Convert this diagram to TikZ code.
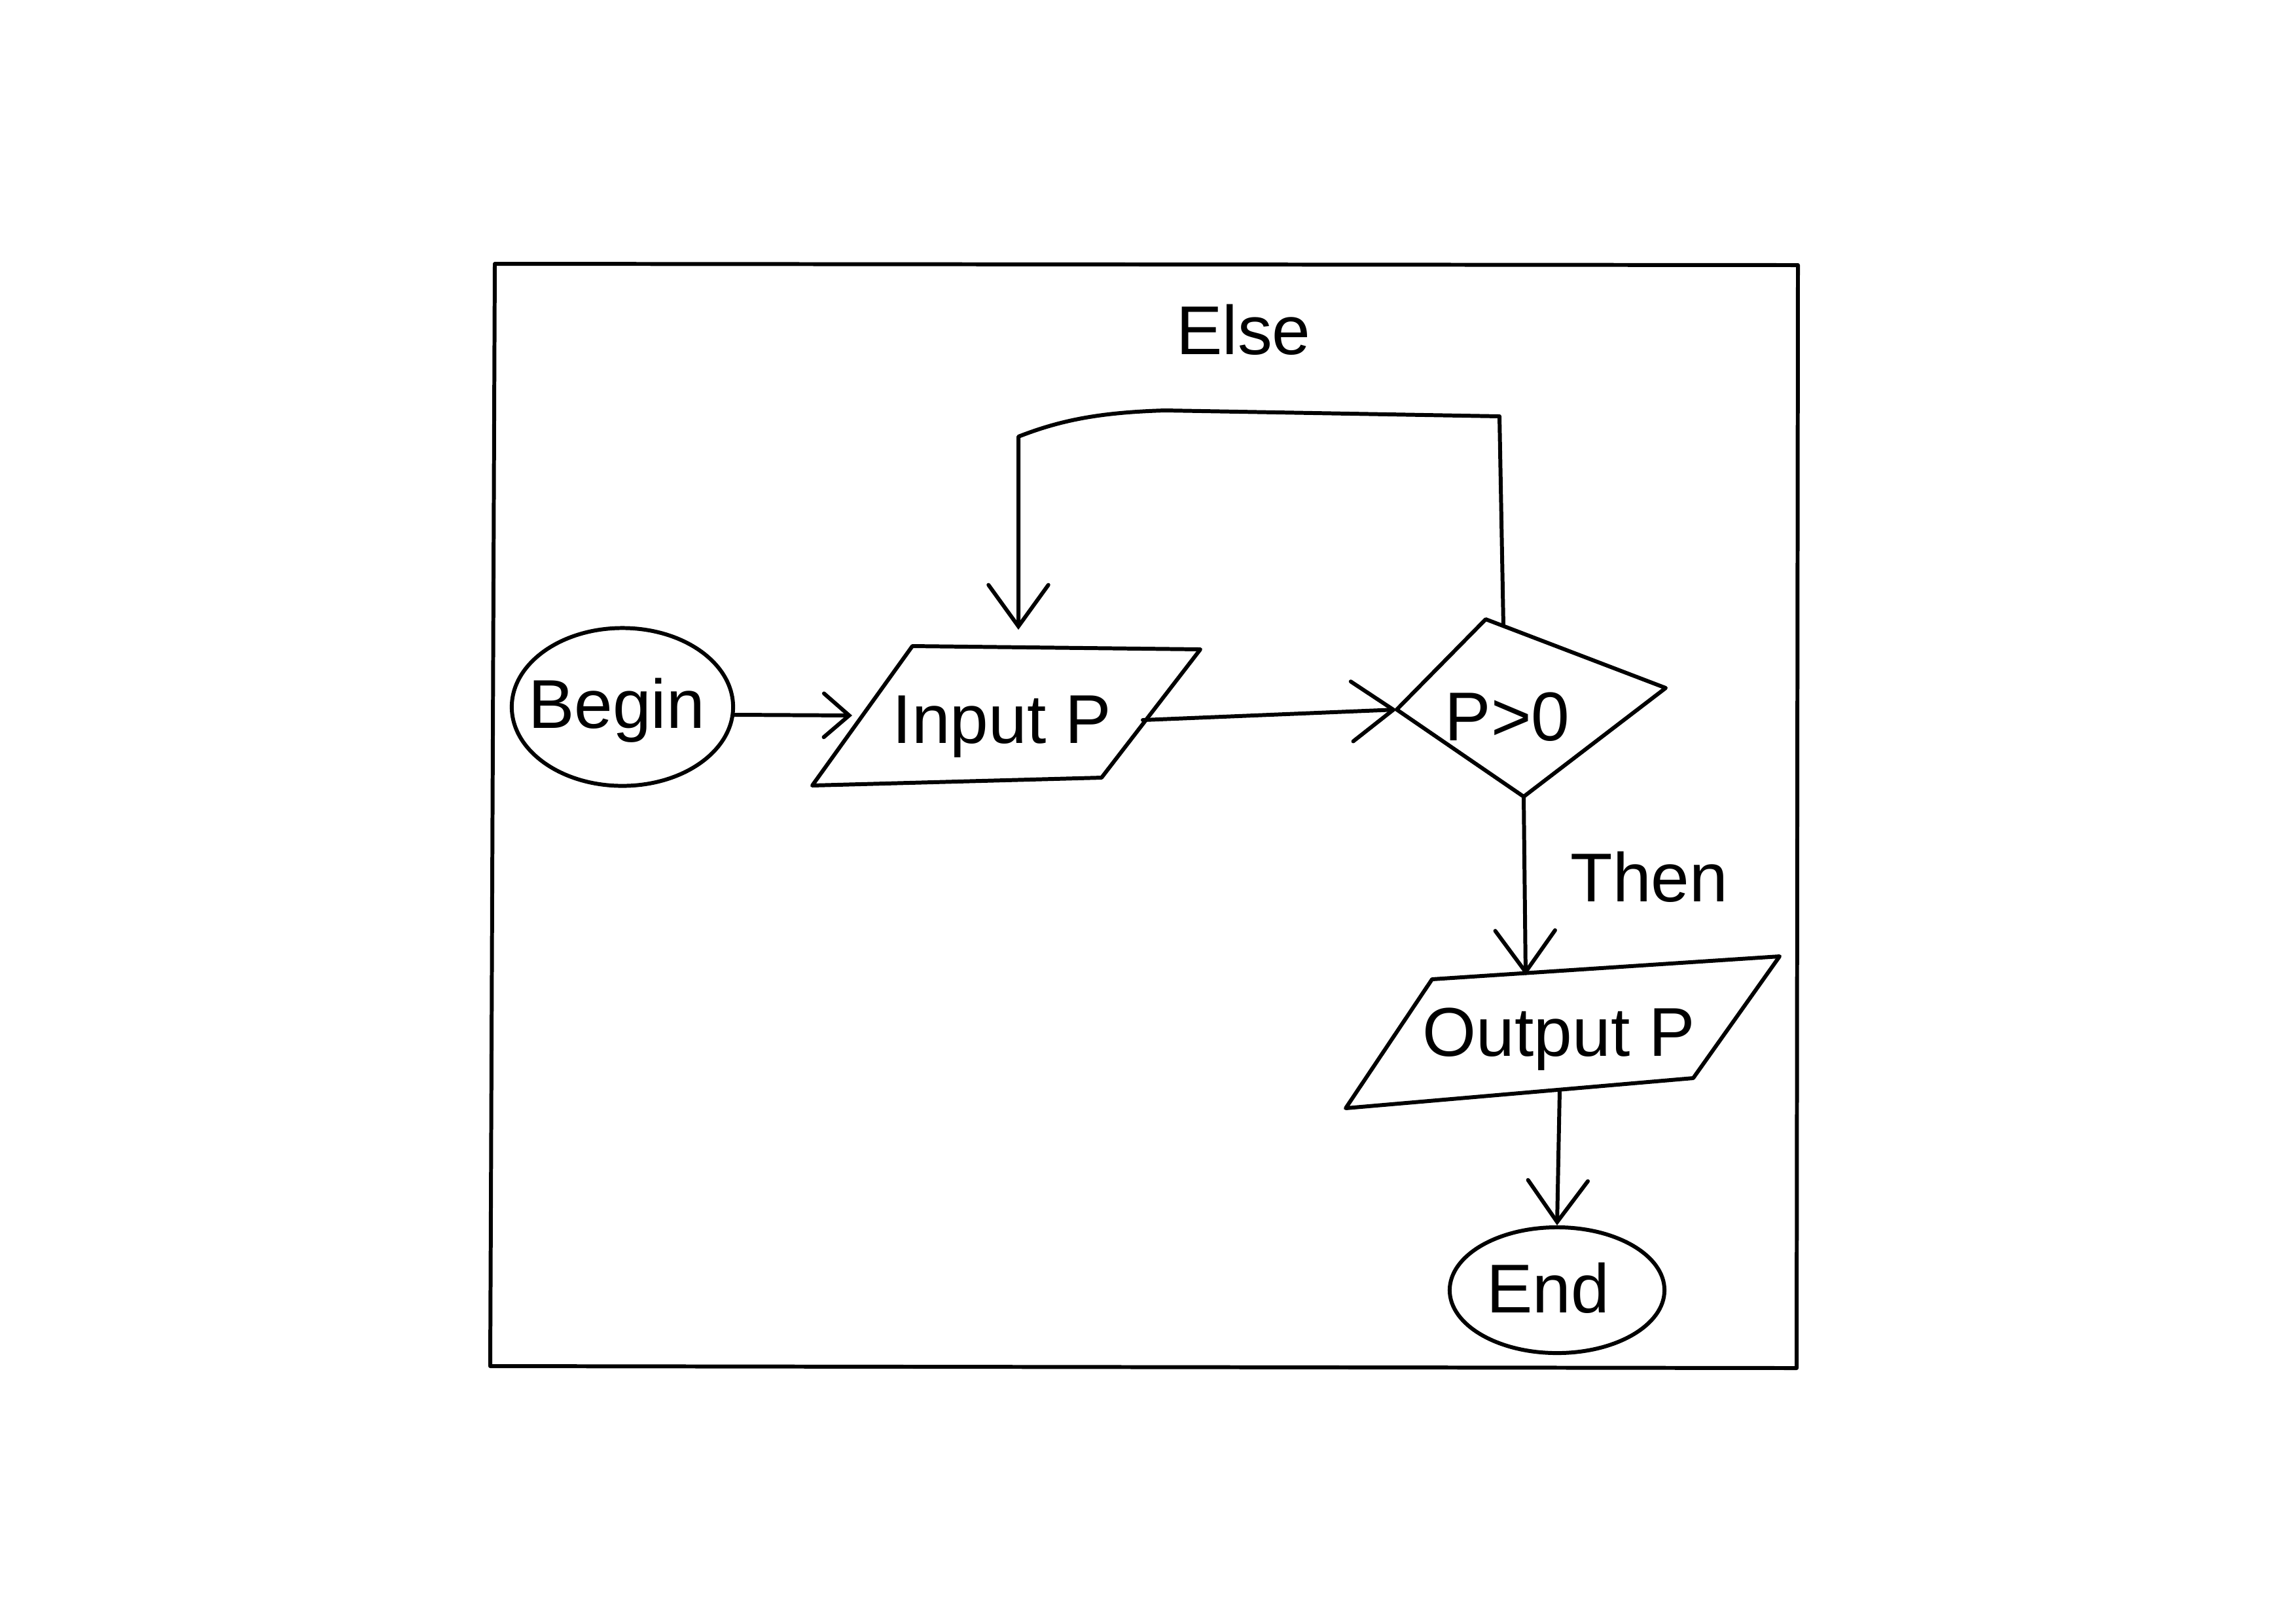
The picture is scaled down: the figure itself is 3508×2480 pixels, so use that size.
\documentclass[tikz,border=0pt]{standalone}
\usepackage{fontspec}
\setmainfont{Liberation Sans}
\usetikzlibrary{arrows.meta,shapes.geometric,calc}
\begin{document}
\begin{tikzpicture}[x=0.01cm,y=-0.01cm,
  stroke/.style={line width=1.7pt, line join=round, line cap=round},
  lbl/.style={font=\fontsize{30}{36}\selectfont, inner sep=0pt},
  arr/.style={stroke, -{Straight Barb[length=18pt,width=26pt,line cap=round]}},
  smallarr/.style={stroke, -{Straight Barb[length=11pt,width=19pt,line cap=round]}},
  term/.style={stroke, draw, ellipse, inner sep=0pt}]
\useasboundingbox (0,0) rectangle (3508,2480);
\fill[white] (0,0) rectangle (3508,2480);
% outer frame
\draw[stroke] (756,403) -- (2747,405) -- (2745,2090) -- (749,2087) -- cycle;

% Begin terminal
\node[term, minimum width=3.38cm, minimum height=2.41cm] (beg) at (951,1080) {};
\node[lbl] (begt) at (942,1085) {Begin};

% Input P parallelogram
\coordinate (inTL) at (1394,987);
\coordinate (inTR) at (1834,992);
\coordinate (inBR) at (1683,1188);
\coordinate (inBL) at (1241,1200);
\draw[stroke] (inTL) -- (inTR) -- (inBR) -- (inBL) -- cycle;
\node[lbl] (inp) at (1531,1110) {Input P};
\coordinate (inW) at (1302,1093);
\coordinate (inE) at (1746,1100);
\coordinate (inN) at (1556,962);

% Decision diamond
\coordinate (dW) at (2134,1084);
\coordinate (dN) at (2270,946);
\coordinate (dE) at (2545,1051);
\coordinate (dS) at (2328,1217);
\draw[stroke] (dW) -- (dN) -- (dE) -- (dS) -- cycle;
\node[lbl] (dec) at (2303,1095) {P>0};
\coordinate (dTop) at (2297,956);

% Output P parallelogram
\coordinate (outTL) at (2188,1496);
\coordinate (outTR) at (2719,1461);
\coordinate (outBR) at (2587,1647);
\coordinate (outBL) at (2056,1693);
\draw[stroke] (outTL) -- (outTR) -- (outBR) -- (outBL) -- cycle;
\node[lbl] (outp) at (2382,1588) {Output P};
\coordinate (outN) at (2331,1490);
\coordinate (outS) at (2383,1666);

% End terminal
\node[term, minimum width=3.28cm, minimum height=1.92cm] (fin) at (2379,1971) {};
\node[lbl] (fint) at (2365,1968) {End};

% loop corners
\coordinate (lpR) at (2291,636);
\coordinate (lpL) at (1556,667);

% labels
\node[lbl] (else) at (1900,504) {Else};
\node[lbl] (then) at (2520,1340) {Then};

% connectors
\draw[smallarr] (beg.-4) -- (inW);
\draw[arr] (inE) -- (dW);
\draw[arr] (dS) -- (outN);
\draw[arr] (outS) -- (fin.north);
\draw[arr] (dTop) -- (lpR) -- (1780,627) .. controls (1680,630) and (1620,642) .. (lpL) -- (inN);
\end{tikzpicture}
\end{document}
